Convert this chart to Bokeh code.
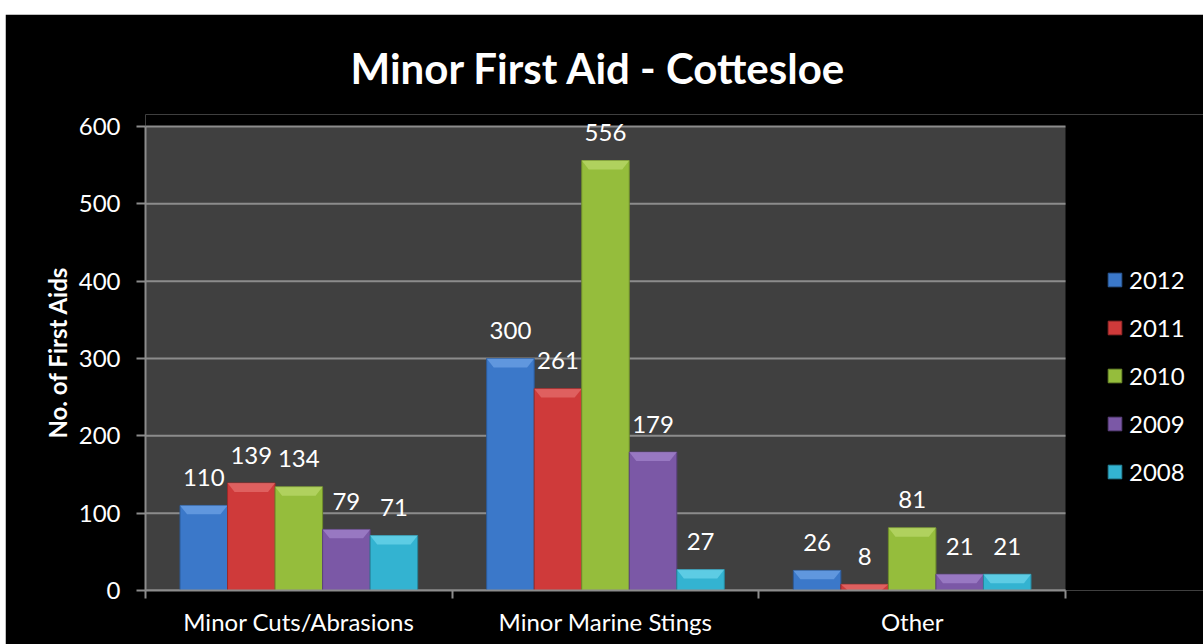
from bokeh.plotting import figure
from bokeh.models import Range1d, FixedTicker, Legend, LegendItem, ColumnDataSource, BoxAnnotation, Spacer
from bokeh.layouts import column, row
from bokeh.core.properties import value
from bokeh.embed import file_html
from bokeh.resources import INLINE

categories = ["Minor Cuts/Abrasions", "Minor Marine Stings", "Other"]
years = ["2012", "2011", "2010", "2009", "2008"]
v2012 = [110, 300, 26]
v2011 = [139, 261, 8]
v2010 = [134, 556, 81]
v2009 = [79, 179, 21]
v2008 = [71, 27, 21]
y_ticks = [0, 100, 200, 300, 400, 500, 600]

series = [v2012, v2011, v2010, v2009, v2008]
colors = ["#3b78c9", "#cf3a3a", "#95bd3c", "#7b58a6", "#33b3d1"]
bevels = ["#7fb0ee", "#ec7f7d", "#c6e27a", "#b093d9", "#7fe0f4"]
edges = ["#2c5a98", "#9a2a2a", "#6f8d2c", "#5b417c", "#27869c"]

FONT = "Lato"
BAR_W = 0.155
N = len(categories)
YMAX = y_ticks[-1]
GRID = "#8c8c8c"
# frame extends a little above the 600 line so labels near the top are not clipped
Y_TOP = YMAX * 476 / 464

p = figure(width=1198, height=630, output_backend="svg", toolbar_location=None,
           x_range=Range1d(0, 3.45), y_range=Range1d(0, Y_TOP),
           min_border_left=140, min_border_right=0, min_border_top=100, min_border_bottom=54,
           background_fill_color="black", border_fill_color="black",
           outline_line_color=None)

p.title.text = "Minor First Aid - Cottesloe"
p.title.text_font = FONT
p.title.text_font_size = "42px"
p.title.text_font_style = "bold"
p.title.text_color = "white"
p.title.align = "left"
p.title.offset = 205
p.title.standoff = 44

# plot area (gray) only over the category span
p.add_layout(BoxAnnotation(left=0, right=N, bottom=0, top=YMAX, fill_color="#404040",
                           fill_alpha=1, line_color=None, level="underlay"))
p.segment(x0=[0] * len(y_ticks), x1=[N] * len(y_ticks), y0=y_ticks, y1=y_ticks,
          line_color=GRID, line_width=2)

items = []
for j, (yr, vals) in enumerate(zip(years, series)):
    xs = [i + 0.5 + (j - 2) * BAR_W for i in range(N)]
    src = ColumnDataSource(dict(x=xs, top=vals, lab=[str(v) for v in vals]))
    r = p.vbar(x="x", top="top", bottom=0, width=BAR_W, source=src,
               fill_color=colors[j], line_color=edges[j], line_width=1)
    # bevel on top of each bar
    dx = 0.023
    pxs, pys = [], []
    for x, t in zip(xs, vals):
        dy = min(11.5, t)
        pxs.append([x - BAR_W / 2, x + BAR_W / 2, x + BAR_W / 2 - dx, x - BAR_W / 2 + dx])
        pys.append([t, t, t - dy, t - dy])
    p.patches(pxs, pys, fill_color=bevels[j], fill_alpha=0.55, line_color=None)
    p.text(x="x", y="top", text="lab", source=src, text_align="center",
           text_baseline="alphabetic", y_offset=-28, text_color="white",
           text_font=value(FONT), text_font_size="24px")
    items.append(LegendItem(label=yr, renderers=[r]))

legend = Legend(items=items, location=(961, 104), padding=0, spacing=19,
                label_height=24, glyph_height=17, glyph_width=17,
                label_text_font=FONT, label_text_font_size="24px",
                label_text_color="white", label_standoff=6,
                background_fill_alpha=0, border_line_color=None, margin=0)
p.add_layout(legend)

# y axis
yax = p.yaxis[0]
yax.bounds = (0, YMAX)
yax.ticker = FixedTicker(ticks=y_ticks)
yax.axis_line_color = GRID
yax.axis_line_width = 2
yax.major_tick_line_color = GRID
yax.major_tick_line_width = 2
yax.major_tick_out = 9
yax.major_tick_in = 0
yax.minor_tick_line_color = None
yax.major_label_text_color = "white"
yax.major_label_text_font = FONT
yax.major_label_text_font_size = "24px"
yax.major_label_standoff = 16
yax.axis_label = "No. of First Aids"
yax.axis_label_text_font = FONT
yax.axis_label_text_font_style = "bold"
yax.axis_label_text_font_size = "24px"
yax.axis_label_text_color = "white"
yax.axis_label_standoff = 4

# x axis
xax = p.xaxis[0]
xax.bounds = (0, N)
xax.ticker = FixedTicker(ticks=[i + 0.5 for i in range(N)], minor_ticks=list(range(N + 1)))
xax.major_label_overrides = {i + 0.5: c for i, c in enumerate(categories)}
xax.axis_line_color = GRID
xax.axis_line_width = 2
xax.major_tick_line_color = None
xax.major_tick_out = 0
xax.major_tick_in = 0
xax.minor_tick_line_color = GRID
xax.minor_tick_line_width = 2
xax.minor_tick_out = 8
xax.minor_tick_in = 0
xax.major_label_text_color = "white"
xax.major_label_text_font = FONT
xax.major_label_text_font_size = "24px"
xax.major_label_standoff = 8

p.xgrid.visible = False
p.ygrid.visible = False

layout = column(Spacer(height=14), row(Spacer(width=5), p))
open("out.html", "w").write(file_html(layout, INLINE))
